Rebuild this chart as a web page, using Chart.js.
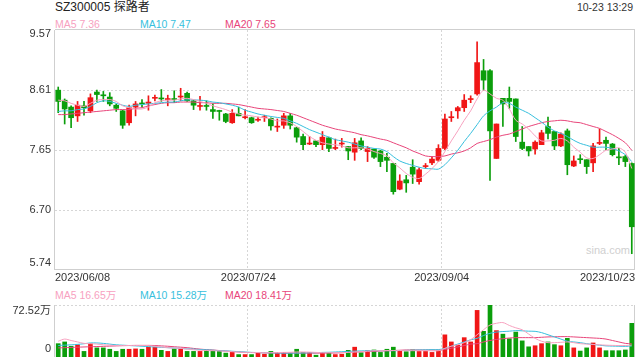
<!DOCTYPE html>
<html>
<head>
<meta charset="utf-8">
<script src="https://cdn.jsdelivr.net/npm/chart.js@4.4.0/dist/chart.umd.min.js"></script>
<style>
  body { margin: 0; width: 640px; height: 360px; overflow: hidden; background: #fff;
         font-family: "Liberation Sans", Arial, "Noto Sans CJK SC", sans-serif; }
  canvas { position: absolute; left: 0; }
  #k { top: 0; }
  #v { top: 300px; }
  .t { position: absolute; white-space: nowrap; font-size: 10.5px; line-height: 12px; }
</style>
</head>
<body>
<div class="t" style="left:55px;top:0px;font-size:12px;line-height:14px;color:#222">SZ300005 探路者</div>
<div class="t" style="right:7px;top:1px;color:#333">10-23 13:29</div>
<div class="t" style="left:55px;top:18px;color:#f7a1bf">MA5 7.36</div>
<div class="t" style="left:140px;top:18px;color:#37bfdd">MA10 7.47</div>
<div class="t" style="left:225px;top:18px;color:#e8457a">MA20 7.65</div>
<div class="t" style="left:55px;top:289px;color:#f7a1bf">MA5 16.65万</div>
<div class="t" style="left:140px;top:289px;color:#37bfdd">MA10 15.28万</div>
<div class="t" style="left:225px;top:289px;color:#e8457a">MA20 18.41万</div>
<div class="t" style="left:586px;top:244px;font-size:11px;color:#d0d0d0">sina.com</div>
<canvas id="k" width="640" height="300"></canvas>
<canvas id="v" width="640" height="60"></canvas>
<script>
// trading days shown
const dates = [
  '2023/06/08','2023/06/09','2023/06/12','2023/06/13','2023/06/14','2023/06/15','2023/06/16','2023/06/19','2023/06/20','2023/06/21',
  '2023/06/26','2023/06/27','2023/06/28','2023/06/29','2023/06/30','2023/07/03','2023/07/04','2023/07/05','2023/07/06','2023/07/07',
  '2023/07/10','2023/07/11','2023/07/12','2023/07/13','2023/07/14','2023/07/17','2023/07/18','2023/07/19','2023/07/20','2023/07/21',
  '2023/07/24','2023/07/25','2023/07/26','2023/07/27','2023/07/28','2023/07/31','2023/08/01','2023/08/02','2023/08/03','2023/08/04',
  '2023/08/07','2023/08/08','2023/08/09','2023/08/10','2023/08/11','2023/08/14','2023/08/15','2023/08/16','2023/08/17','2023/08/18',
  '2023/08/21','2023/08/22','2023/08/23','2023/08/24','2023/08/25','2023/08/28','2023/08/29','2023/08/30','2023/08/31','2023/09/01',
  '2023/09/04','2023/09/05','2023/09/06','2023/09/07','2023/09/08','2023/09/11','2023/09/12','2023/09/13','2023/09/14','2023/09/15',
  '2023/09/18','2023/09/19','2023/09/20','2023/09/21','2023/09/22','2023/09/25','2023/09/26','2023/09/27','2023/09/28','2023/10/09',
  '2023/10/10','2023/10/11','2023/10/12','2023/10/13','2023/10/16','2023/10/17','2023/10/18','2023/10/19','2023/10/20','2023/10/23'
];

const open = [
  8.61,8.45,8.34,8.20,8.36,8.28,8.58,8.53,8.50,8.37, 8.28,8.09,8.34,8.40,8.40,8.48,8.48,8.46,8.47,8.50,
  8.56,8.44,8.35,8.36,8.30,8.28,8.23,8.09,8.24,8.17, 8.17,8.13,8.17,8.16,8.02,8.05,8.20,8.01,7.87,7.75,
  7.80,7.74,7.85,7.68,7.75,7.71,7.62,7.80,7.63,7.67, 7.64,7.54,7.44,7.03,7.18,7.38,7.15,7.39,7.45,7.49,
  7.68,8.17,8.28,8.33,8.46,8.55,8.92,8.92,7.52,8.48, 8.48,8.47,7.78,7.71,7.67,7.74,8.03,7.95,7.72,7.96,
  7.40,7.51,7.50,7.45,7.76,7.81,7.75,7.54,7.55,7.44
];
const high = [
  8.66,8.47,8.36,8.43,8.43,8.55,8.61,8.59,8.57,8.39, 8.29,8.37,8.43,8.46,8.52,8.53,8.62,8.53,8.60,8.64,
  8.58,8.45,8.51,8.44,8.39,8.29,8.24,8.30,8.34,8.30, 8.18,8.18,8.21,8.17,8.15,8.24,8.24,8.02,7.91,7.87,
  7.80,7.95,7.86,7.83,7.84,7.71,7.84,7.85,7.71,7.67, 7.65,7.60,7.44,7.26,7.25,7.50,7.37,7.44,7.55,7.74,
  8.23,8.27,8.35,8.54,8.52,9.38,9.10,8.94,8.07,8.48, 8.66,8.47,8.03,7.71,7.80,7.97,8.18,7.95,7.93,7.99,
  7.56,7.58,7.50,7.76,7.99,7.86,7.76,7.68,7.57,7.45
];
const low = [
  8.25,8.07,8.01,8.11,8.21,8.25,8.43,8.43,8.36,8.27, 8.00,8.05,8.20,8.34,8.29,8.44,8.43,8.36,8.41,8.44,
  8.43,8.30,8.29,8.29,8.16,8.13,8.09,8.08,8.20,8.15, 8.08,8.11,8.11,7.97,7.95,8.00,7.99,7.78,7.66,7.74,
  7.71,7.66,7.63,7.66,7.70,7.50,7.49,7.66,7.47,7.52, 7.39,7.31,6.95,7.02,6.98,7.12,7.11,7.36,7.42,7.47,
  7.66,8.11,8.16,8.27,8.41,8.53,8.61,7.17,7.52,8.03, 8.32,7.79,7.66,7.56,7.59,7.74,7.83,7.66,7.71,7.26,
  7.39,7.44,7.28,7.31,7.74,7.66,7.56,7.42,7.39,6.00
];
const close = [
  8.43,8.31,8.17,8.37,8.33,8.49,8.54,8.52,8.39,8.32, 8.05,8.33,8.39,8.39,8.42,8.49,8.47,8.47,8.46,8.51,
  8.44,8.37,8.36,8.35,8.27,8.27,8.11,8.24,8.20,8.18, 8.09,8.14,8.18,8.04,8.03,8.20,8.05,7.86,7.74,7.76,
  7.74,7.86,7.68,7.69,7.76,7.64,7.77,7.68,7.68,7.54, 7.47,7.49,6.99,7.16,7.13,7.27,7.34,7.40,7.51,7.68,
  8.15,8.18,8.33,8.45,8.47,9.05,8.77,7.96,8.07,8.39, 8.43,7.87,7.68,7.64,7.78,7.93,7.92,7.72,7.91,7.42,
  7.48,7.50,7.39,7.72,7.77,7.76,7.58,7.53,7.47,6.43
];

// moving average lines
const ma5 = [
  8.45,8.44,8.40,8.37,8.35,8.40,8.45,8.46,8.46,8.43, 8.36,8.33,8.31,8.31,8.34,8.41,8.44,8.45,8.45,8.47,
  8.48,8.46,8.43,8.40,8.36,8.33,8.30,8.26,8.23,8.21, 8.20,8.18,8.17,8.15,8.12,8.12,8.09,8.03,7.95,7.87,
  7.81,7.77,7.75,7.74,7.72,7.69,7.69,7.69,7.67,7.63, 7.60,7.56,7.45,7.37,7.28,7.22,7.20,7.27,7.36,7.47,
  7.63,7.80,7.96,8.13,8.28,8.47,8.61,8.55,8.48,8.45, 8.31,8.13,8.07,7.99,7.88,7.80,7.80,7.81,7.84,7.80,
  7.70,7.62,7.53,7.52,7.58,7.65,7.67,7.69,7.62,7.36
];
const ma10 = [
  8.27,8.28,8.28,8.30,8.31,8.35,8.41,8.44,8.43,8.40, 8.37,8.35,8.37,8.38,8.39,8.40,8.41,8.42,8.42,8.44,
  8.455,8.455,8.45,8.44,8.42,8.41,8.39,8.37,8.34,8.29, 8.26,8.23,8.21,8.19,8.175,8.16,8.12,8.08,8.03,7.98,
  7.94,7.90,7.86,7.82,7.80,7.78,7.75,7.72,7.70,7.68, 7.67,7.63,7.55,7.48,7.44,7.41,7.38,7.36,7.355,7.35,
  7.42,7.53,7.65,7.79,7.92,8.06,8.20,8.28,8.34,8.41, 8.40,8.34,8.29,8.24,8.17,8.10,8.02,7.96,7.92,7.87,
  7.81,7.76,7.73,7.70,7.70,7.70,7.68,7.64,7.58,7.47
];
const ma20 = [
  8.22,8.22,8.23,8.24,8.25,8.26,8.27,8.28,8.29,8.30, 8.30,8.30,8.32,8.33,8.36,8.38,8.40,8.41,8.41,8.42,
  8.42,8.42,8.41,8.41,8.40,8.40,8.40,8.39,8.38,8.36, 8.34,8.32,8.31,8.30,8.285,8.27,8.24,8.21,8.17,8.13,
  8.09,8.05,8.02,7.99,7.97,7.95,7.93,7.90,7.88,7.855, 7.83,7.81,7.77,7.73,7.69,7.64,7.60,7.56,7.55,7.55,
  7.56,7.59,7.61,7.64,7.69,7.76,7.79,7.82,7.86,7.89, 7.91,7.95,7.99,8.03,8.06,8.09,8.11,8.12,8.13,8.12,
  8.10,8.09,8.06,8.03,8.00,7.95,7.90,7.84,7.77,7.65
];

// volume in 万 (10k shares)
const volume = [
  18.6,21,15,17,7.8,18.6,12.7,12.7,10.8,7.8, 10.8,10.8,11.3,10.8,13.7,13.7,9.3,7.8,11.3,10.8,
  7.8,7.8,7.8,8.8,8.8,7.8,5.4,6.4,3.4,3.4, 3.4,5.4,3.9,7.8,6.4,6.4,5.4,10.8,6.4,6.4,
  2.5,5.9,5.4,3.4,3.9,9.3,13.7,5.9,8.8,9.8, 6.4,10.8,13.7,8.8,7.4,9.8,7.8,7.8,6.4,8.8,
  30.9,21,16.2,27,21,65,35.8,72.5,36.8,31.9, 25.5,34.8,22.5,14.2,15.7,18.6,21,17.2,15.7,26,
  12.7,8.3,12.7,19.6,12.7,8.8,8.8,8.8,9.8,47
];
const volMa5 = [
  22,25,23,21,19,18.6,18,17,16.5,16, 16,16,16,16,16,15,14,13,12.5,12,
  11,10,9.5,9,8.8,8.5,8,7.5,7,6.5, 6.4,6.2,6,6,6.2,6.4,6.6,7,7,6.8,
  6.4,6,6,6,6.2,6.4,7,7.5,8,8.8, 8.8,9,9,9,8.8,8.8,8.8,8.8,8.5,8.8,
  12,15,17,20,24,31,38,44.6,47,48, 44,40.7,38,32,26,22,20,20,20.5,21,
  20,18.6,18,17.5,17,16.5,16.2,16,16,16.65
];
const volMa10 = [
  16,16.5,17,17.6,18.5,19.6,19.6,19,18,17, 16.5,16,15.5,15,14.5,14,13.5,13,12.5,12,
  11.3,11,10.5,10,9.5,8.8,8.5,8,7.5,7, 6.4,6.2,6,5.8,5.6,5.4,5.4,5.4,5.6,5.8,
  6,6.4,6.6,7,7.4,7.8,8.2,8.5,8.8,8.8, 8.8,8.8,8.8,9,9.2,9.5,9.8,10,10.2,10.3,
  12,15.2,18,21,24,26,30,33,34.8,35.5, 36,36.8,36.5,36,35.8,34,31,28,25,22,
  21,20,18.6,17.5,16.5,15.5,15.2,15,14.8,15.28
];
const volMa20 = [
  12.7,13,13.3,13.7,14,14.3,14.6,14.9,15.2,15.5, 15.8,16,16.2,16.2,16.2,16,15.5,15,14.3,13.7,
  13,12,11,10.3,9.8,9,8.3,7.6,7,6.4, 6.2,6,5.8,5.6,5.4,5.4,5.4,5.4,5.4,5.4,
  5.4,5.4,5.5,5.6,6,6.4,6.8,7.2,7.5,7.8, 8.2,8.6,9,9.4,9.8,9.8,9.8,9.8,9.8,9.8,
  10.5,12.3,14,16,18,18.6,21,23,24.5,25.5, 26.5,27,27,27,27,27.5,28,28.2,28.4,28.4,
  28,27.5,27,26.5,26,25,23,21,19,18.41
];

// tick labels
const priceTicks = ['9.57', '8.61', '7.65', '6.70', '5.74'];
const volTicks = ['72.52万', '0'];
const dateTicks = ['2023/06/08', '2023/07/24', '2023/09/04', '2023/10/23'];

const UP = '#f01616';
const DOWN = '#0b9e0b';
const C5 = '#f7a1bf', C10 = '#37bfdd', C20 = '#e8457a';
const FONT = '11px "Liberation Sans", Arial, "Noto Sans CJK SC", sans-serif';

const barColors = close.map((c, i) => c >= open[i] ? UP : DOWN);

function lineSet(data, color) {
  return { type: 'line', data: data, borderColor: color, borderWidth: 1, pointRadius: 0,
           tension: 0.3, fill: false, order: 0 };
}

// dotted grid + frame, with labels drawn from the scales
function frame(opts) {
  return {
    id: 'frame' + opts.name,
    beforeDatasetsDraw(chart) {
      const { ctx, chartArea: a, scales: { x, y } } = chart;
      const step = x.getPixelForValue(1) - x.getPixelForValue(0);
      ctx.save();
      ctx.lineWidth = 1;
      ctx.strokeStyle = '#d6d6d6';
      ctx.setLineDash([2, 2]);
      opts.hLines.forEach(v => {
        const py = Math.round(y.getPixelForValue(v)) + 0.5;
        ctx.beginPath(); ctx.moveTo(a.left, py); ctx.lineTo(a.right, py); ctx.stroke();
      });
      dateTicks.slice(1, -1).forEach(d => {
        const px = Math.round(x.getPixelForValue(dates.indexOf(d)) - step / 2) - 0.5;
        ctx.beginPath(); ctx.moveTo(px, a.top); ctx.lineTo(px, a.bottom); ctx.stroke();
      });
      ctx.setLineDash([]);
      ctx.strokeStyle = '#cfcfcf';
      ctx.beginPath();
      ctx.moveTo(a.left - 0.5, a.top); ctx.lineTo(a.left - 0.5, a.bottom);
      ctx.moveTo(a.right - 0.5, a.top); ctx.lineTo(a.right - 0.5, a.bottom);
      if (opts.box) {
        ctx.moveTo(a.left, a.top - 0.5); ctx.lineTo(a.right, a.top - 0.5);
        ctx.moveTo(a.left, a.bottom - 0.5); ctx.lineTo(a.right, a.bottom - 0.5);
      }
      ctx.stroke();
      ctx.restore();
    },
    afterDraw(chart) {
      const { ctx, chartArea: a, scales: { x, y } } = chart;
      const step = x.getPixelForValue(1) - x.getPixelForValue(0);
      ctx.save();
      ctx.font = FONT;
      ctx.fillStyle = '#333';
      ctx.textAlign = 'right';
      ctx.textBaseline = 'middle';
      opts.yLabels.forEach((lab, k) => {
        const py = y.getPixelForValue(opts.yValues[k]);
        const shift = k === 0 ? opts.topShift : (k === opts.yLabels.length - 1 ? opts.bottomShift : 0);
        ctx.fillText(lab, a.left - 4, py + shift);
      });
      if (opts.dates) {
        dateTicks.forEach((d, k) => {
          const i = dates.indexOf(d);
          let px = x.getPixelForValue(i) - step / 2;
          ctx.textAlign = 'center';
          if (k === 0) { ctx.textAlign = 'left'; px = a.left; }
          if (k === dateTicks.length - 1) { ctx.textAlign = 'right'; px = a.right; }
          ctx.fillText(d, px, a.bottom + 8);
        });
      }
      ctx.restore();
    }
  };
}

const priceVals = priceTicks.map(Number);

new Chart(document.getElementById('k').getContext('2d'), {
  type: 'bar',
  data: {
    labels: dates,
    datasets: [
      lineSet(ma5, C5),
      lineSet(ma10, C10),
      lineSet(ma20, C20),
      { data: open.map((o, i) => [o, close[i]]), backgroundColor: barColors,
        barThickness: 5, minBarLength: 1, grouped: false, order: 1 },
      { data: low.map((l, i) => [l, high[i]]), backgroundColor: barColors,
        barThickness: 1, grouped: false, order: 2 }
    ]
  },
  options: {
    animation: false,
    responsive: false,
    events: [],
    layout: { padding: { left: 55, right: 5, top: 30, bottom: 30 } },
    plugins: { legend: { display: false }, tooltip: { enabled: false } },
    scales: {
      x: { display: false, offset: true },
      y: { display: false, min: priceVals[4], max: priceVals[0] }
    }
  },
  plugins: [frame({ name: 'k', hLines: priceVals.slice(1, -1), yLabels: priceTicks, yValues: priceVals,
                    topShift: 4, bottomShift: -7, dates: true, box: true })]
});

new Chart(document.getElementById('v').getContext('2d'), {
  type: 'bar',
  data: {
    labels: dates,
    datasets: [
      lineSet(volMa5, C5),
      lineSet(volMa10, C10),
      lineSet(volMa20, C20),
      { data: volume, backgroundColor: barColors, barThickness: 4, grouped: false, order: 1 }
    ]
  },
  options: {
    animation: false,
    responsive: false,
    events: [],
    layout: { padding: { left: 55, right: 5, top: 5, bottom: 3 } },
    plugins: { legend: { display: false }, tooltip: { enabled: false } },
    scales: {
      x: { display: false, offset: true },
      y: { display: false, min: 0, max: 72.52 }
    }
  },
  plugins: [frame({ name: 'v', hLines: [72.52], yLabels: volTicks, yValues: [72.52, 0],
                    topShift: 6, bottomShift: -8, dates: false, box: false })]
});
</script>
</body>
</html>
